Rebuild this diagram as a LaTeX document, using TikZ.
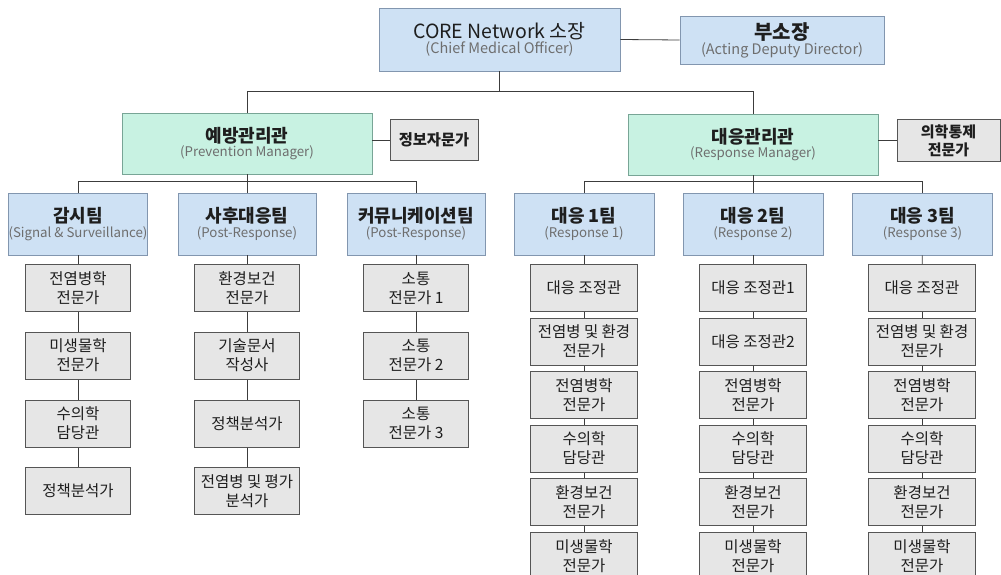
\documentclass[tikz,border=0pt]{standalone}
\usepackage{fontspec}
\setmainfont{Noto Sans CJK KR}
\definecolor{bluefill}{RGB}{206,225,244}
\definecolor{blueline}{RGB}{130,150,175}
\definecolor{greenfill}{RGB}{200,242,226}
\definecolor{greenline}{RGB}{120,165,150}
\definecolor{grayfill}{RGB}{230,230,230}
\definecolor{grayline}{RGB}{85,85,85}
\definecolor{conn}{RGB}{60,60,60}
\definecolor{subtxt}{RGB}{110,110,110}
\definecolor{maintxt}{RGB}{30,30,30}
\begin{document}
\begin{tikzpicture}[x=1pt,y=-1pt,
  box/.style={rectangle, inner sep=0pt, align=center, text=maintxt},
  bluebox/.style={box, fill=bluefill, draw=blueline, line width=0.8pt},
  greenbox/.style={box, fill=greenfill, draw=greenline, line width=0.8pt},
  graybox/.style={box, fill=grayfill, draw=grayline, line width=1pt, font=\fontsize{15.5}{19}\selectfont},
  lbox/.style={graybox, minimum width=105pt, minimum height=47pt},
  rbox/.style={graybox, minimum width=107pt, minimum height=47pt},
  teambox/.style={bluebox, minimum width=138pt, minimum height=62pt},
  link/.style={draw=conn, line width=0.8pt},
]
\useasboundingbox (0,0) rectangle (1001,575);
\clip (0,0) rectangle (1001,575);
\newcommand{\ttl}[1]{{\fontsize{18}{21}\selectfont\bfseries #1}}
\newcommand{\sub}[1]{{\fontsize{13.3}{16}\selectfont\color{subtxt}#1}}

% top
\node[bluebox, minimum width=241pt, minimum height=63pt] (ceo) at (499.5,39.5)
  {{\fontsize{19.5}{23}\selectfont CORE Network 소장}\\[1pt]{\fontsize{14.5}{17}\selectfont\color{subtxt}(Chief Medical Officer)}};
\node[bluebox, minimum width=204pt, minimum height=48pt] (dep) at (782,40)
  {{\fontsize{20}{22}\selectfont\bfseries 부소장}\\{\fontsize{14.5}{17}\selectfont\color{subtxt}(Acting Deputy Director)}};
\draw[link] (ceo.east) -- (dep.west);

% managers
\node[greenbox, minimum width=250pt, minimum height=61pt] (pm) at (247,143.5)
  {\ttl{예방관리관}\\[1pt]\sub{(Prevention Manager)}};
\node[greenbox, minimum width=250pt, minimum height=61pt] (rm) at (753,144.5)
  {\ttl{대응관리관}\\[1pt]\sub{(Response Manager)}};
\node[graybox, minimum width=88pt, minimum height=40pt, font=\fontsize{15.3}{18}\selectfont\bfseries] (info) at (434,140) {정보자문가};
\node[graybox, minimum width=103pt, minimum height=41pt, font=\fontsize{15}{18}\selectfont\bfseries] (med) at (948.5,140.5) {의학통제\\전문가};

\coordinate (hl) at (0,91);
\draw[link] (ceo.south) -- (ceo.south |- hl);
\draw[link] (pm.north) -- (pm.north |- hl) -- (rm.north |- hl) -- (rm.north);
\draw[link] (info.west) -- (info.west -| pm.east);
\draw[link] (med.west) -- (med.west -| rm.east);

% teams
\node[teambox] (t1) at (78,224) {\ttl{감시팀}\\[1pt]\sub{(Signal \& Surveillance)}};
\node[teambox] (t2) at (247,224) {\ttl{사후대응팀}\\[1pt]\sub{(Post-Response)}};
\node[teambox] (t3) at (416,224) {\ttl{커뮤니케이션팀}\\[1pt]\sub{(Post-Response)}};
\node[teambox, minimum width=140pt] (r1) at (584,224) {\ttl{대응 1팀}\\[1pt]\sub{(Response 1)}};
\node[teambox, minimum width=140pt] (r2) at (753,224) {\ttl{대응 2팀}\\[1pt]\sub{(Response 2)}};
\node[teambox, minimum width=140pt] (r3) at (922.5,224) {\ttl{대응 3팀}\\[1pt]\sub{(Response 3)}};

\coordinate (hl2) at (0,181);
\draw[link] (pm.south) -- (pm.south |- hl2);
\draw[link] (t1.north) -- (t1.north |- hl2) -- (t3.north |- hl2) -- (t3.north);
\draw[link] (t2.north) -- (t2.north |- hl2);
\draw[link] (rm.south) -- (rm.south |- hl2);
\draw[link] (r1.north) -- (r1.north |- hl2) -- (r3.north |- hl2) -- (r3.north);
\draw[link] (r2.north) -- (r2.north |- hl2);

% left columns
\node[lbox] (a1) at (78,288) {전염병학\\전문가};
\node[lbox] (a2) at (78,355.5) {미생물학\\전문가};
\node[lbox] (a3) at (78,423.5) {수의학\\담당관};
\node[lbox] (a4) at (78,491) {정책분석가};

\node[lbox] (b1) at (247,288) {환경보건\\전문가};
\node[lbox] (b2) at (247,355.5) {기술문서\\작성사};
\node[lbox] (b3) at (247,423.5) {정책분석가};
\node[lbox] (b4) at (247,491) {전염병 및 평가\\분석가};

\node[lbox] (c1) at (416,288) {소통\\전문가 1};
\node[lbox] (c2) at (416,355.5) {소통\\전문가 2};
\node[lbox] (c3) at (416,423.5) {소통\\전문가 3};

% right columns
\node[rbox] (d1) at (584,288) {대응 조정관};
\node[rbox] (d2) at (584,341.5) {전염병 및 환경\\전문가};
\node[rbox] (d3) at (584,395) {전염병학\\전문가};
\node[rbox] (d4) at (584,448.5) {수의학\\담당관};
\node[rbox] (d5) at (584,502) {환경보건\\전문가};
\node[rbox] (d6) at (584,556) {미생물학\\전문가};

\node[rbox] (e1) at (753,288) {대응 조정관1};
\node[rbox] (e2) at (753,341.5) {대응 조정관2};
\node[rbox] (e3) at (753,395) {전염병학\\전문가};
\node[rbox] (e4) at (753,448.5) {수의학\\담당관};
\node[rbox] (e5) at (753,502) {환경보건\\전문가};
\node[rbox] (e6) at (753,556) {미생물학\\전문가};

\node[rbox] (f1) at (922,288) {대응 조정관};
\node[rbox] (f2) at (922,341.5) {전염병 및 환경\\전문가};
\node[rbox] (f3) at (922,395) {전염병학\\전문가};
\node[rbox] (f4) at (922,448.5) {수의학\\담당관};
\node[rbox] (f5) at (922,502) {환경보건\\전문가};
\node[rbox] (f6) at (922,556) {미생물학\\전문가};

% column connectors
\draw[link] (t1) -- (a1); \draw[link] (t2) -- (b1); \draw[link] (t3) -- (c1);
\draw[link] (r1) -- (d1); \draw[link] (r2) -- (e1); \draw[link] (r3) -- (f1);
\foreach \i [count=\j from 2] in {1,2,3} {
  \draw[link] (a\i) -- (a\j);
  \draw[link] (b\i) -- (b\j);
}
\foreach \i [count=\j from 2] in {1,2} \draw[link] (c\i) -- (c\j);
\foreach \i [count=\j from 2] in {1,...,5} {
  \draw[link] (d\i) -- (d\j);
  \draw[link] (e\i) -- (e\j);
  \draw[link] (f\i) -- (f\j);
}
\end{tikzpicture}
\end{document}
